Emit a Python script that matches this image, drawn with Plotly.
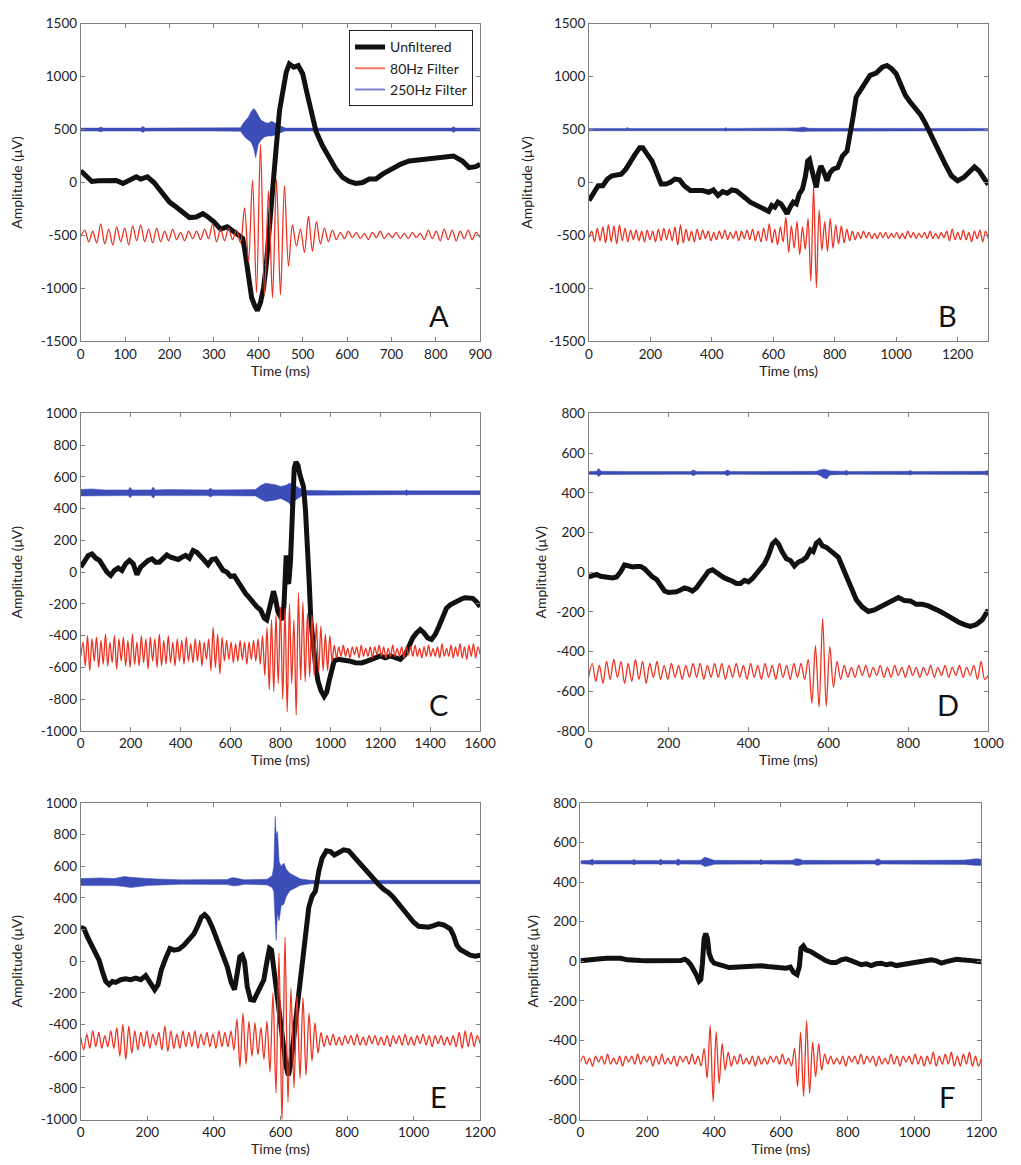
import numpy as np
import plotly.graph_objects as go

# Display offsets used to stack the filtered traces above/below the raw one
RED_OFFSET = -500
BLUE_OFFSET = 500

BLACK = "#111111"
RED = "#ec3322"
BLUE = "#3c4db8"
AXIS = "#7f7f7f"
FONT = "Lato"

# ---------------- Panel A ----------------
A_RAW = [(0, 110), (10, 64), (25, 10), (40, 17), (60, 23), (80, 20), (95, -8), (110, 17), (125, 54),
         (135, 33), (150, 54), (165, 0), (180, -76), (200, -185), (215, -232), (230, -278), (245, -331),
         (260, -325), (275, -294), (285, -320), (300, -372), (315, -440), (330, -418), (345, -465),
         (355, -490), (365, -527), (370, -651), (378, -900), (385, -1087), (392, -1164), (398, -1210),
         (405, -1133), (412, -993), (418, -776), (425, -465), (432, -92), (440, 312), (448, 685),
         (455, 872), (463, 1043), (470, 1121), (480, 1090), (490, 1105), (500, 1028), (510, 841),
         (520, 655), (530, 484), (545, 344), (560, 225), (575, 126), (590, 48), (605, 11), (620, -8),
         (635, 0), (650, 33), (665, 33), (680, 79), (700, 126), (720, 172), (740, 204), (760, 213),
         (780, 225), (800, 225), (820, 244), (840, 250), (860, 204), (875, 141), (890, 150), (900, 172)]
A_F80 = [-10, 50, -60, 40, -70, 110, -80, 60, -90, 80, -60, 70, -90, 90, -50, 100, -60, 60, -70, 70,
         -60, 40, -50, 60, -40, 30, -50, 40, -30, 40, -40, 60, -30, 110, -60, 60, -50, 70, -40, 50,
         -70, 260, -250, 520, -540, 860, -560, 420, -590, 530, -560, 470, -290, 100, -100, 60, -160, 180, -150, 130,
         -80, 70, -60, 50, -40, 30, -30, 40, -20, 30, -30, 20, -40, 30, -20, 40, -30, 20, -20, 30,
         -30, 20, -30, 30, -20, 20, -40, 50, -30, 40, -50, 60, -40, 50, -50, 40, -30, 50, -40, 30, -20]
A_F250 = [(0, 14, -14), (40, 14, -14), (45, 24, -22), (50, 14, -14), (135, 14, -14), (140, 30, -28),
          (145, 14, -14), (230, 17, -17), (300, 14, -14), (360, 18, -16), (366, 60, -50), (372, 90, -80),
          (378, 120, -100), (384, 170, -120), (390, 200, -180), (394, 180, -265), (400, 130, -140),
          (406, 90, -100), (414, 70, -70), (422, 60, -60), (430, 80, -60), (438, 60, -50), (446, 45, -40),
          (454, 26, -22), (462, 14, -14), (600, 14, -14), (835, 14, -14), (840, 28, -26), (845, 14, -14),
          (900, 14, -14)]

# ---------------- Panel B ----------------
B_RAW = [(0, -170), (15, -107), (30, -30), (45, -30), (60, 33), (75, 64), (90, 70), (105, 79), (120, 126),
         (135, 204), (150, 266), (165, 328), (175, 328), (190, 266), (205, 204), (220, 95), (235, -14),
         (250, -14), (265, 2), (280, 33), (295, 26), (310, -30), (330, -76), (350, -76), (370, -76),
         (390, -92), (405, -70), (420, -123), (435, -86), (450, -101), (465, -70), (480, -79), (495, -107),
         (510, -148), (525, -185), (540, -210), (555, -232), (570, -247), (585, -272), (595, -216),
         (605, -232), (615, -185), (625, -201), (635, -247), (645, -294), (655, -232), (665, -185),
         (675, -201), (685, -107), (695, -61), (705, 64), (712, 204), (718, 219), (725, 126), (732, 17),
         (740, -45), (748, 95), (755, 157), (765, 95), (775, 17), (785, 95), (795, 126), (810, 141),
         (825, 250), (840, 297), (850, 437), (860, 623), (870, 809), (885, 872), (900, 934), (915, 1012),
         (935, 1034), (955, 1090), (970, 1106), (985, 1075), (1000, 1028), (1015, 934), (1030, 825),
         (1045, 763), (1060, 716), (1080, 638), (1095, 561), (1110, 468), (1125, 374), (1140, 297),
         (1160, 172), (1180, 64), (1200, 17), (1220, 48), (1240, 110), (1255, 148), (1270, 110),
         (1285, 48), (1300, -20)]
B_F80 = [-20, 40, -60, 70, -50, 80, -70, 100, -60, 90, -80, 100, -50, 70, -60, 50, -40, 50, -50, 40,
         -60, 50, -40, 40, -60, 60, -50, 70, -40, 60, -50, 80, -90, 100, -70, 60, -50, 40, -60, 60,
         -40, 50, -30, 40, -50, 30, -40, 40, -30, 50, -40, 30, -30, 40, -50, 40, -30, 50, -40, 60,
         -50, 40, -60, 70, -50, 110, -70, 60, -90, 80, -60, 170, -160, 90, -120, 130, -180, 80, -130, 160,
         -430, 470, -495, 240, -140, 130, -150, 160, -120, 100, -80, 90, -70, 60, -50, 40, -40, 30, -30, 40,
         -20, 30, -30, 20, -30, 30, -20, 30, -30, 20, -20, 30, -30, 20, -30, 40, -20, 30, -30, 20,
         -20, 30, -30, 40, -30, 20, -30, 30, -20, 40, -50, 60, -40, 30, -40, 50, -40, 30, -60, 40,
         -30, 50, -60, 40, -30]
B_F250 = [(0, 11, -11), (120, 11, -11), (125, 20, -18), (130, 11, -11), (440, 11, -11), (445, 18, -16),
          (450, 11, -11), (640, 11, -11), (680, 16, -15), (700, 24, -20), (705, 18, -16), (720, 12, -12),
          (1080, 11, -11), (1085, 18, -16), (1090, 11, -11), (1170, 11, -11), (1175, 16, -15),
          (1180, 11, -11), (1300, 11, -11)]

# ---------------- Panel C ----------------
C_RAW = [(0, 32), (15, 74), (30, 105), (45, 115), (60, 88), (75, 74), (90, 32), (105, 1), (120, -20),
         (135, 11), (150, 26), (165, 11), (180, 53), (195, 74), (210, 53), (225, -16), (240, 32),
         (255, 53), (270, 74), (285, 84), (300, 63), (315, 63), (330, 88), (345, 109), (360, 94),
         (375, 88), (390, 80), (405, 94), (420, 105), (435, 88), (450, 136), (465, 125), (480, 94),
         (495, 74), (510, 47), (525, 80), (540, 84), (555, 42), (570, 11), (585, 1), (600, -26),
         (615, -24), (630, -61), (645, -103), (660, -134), (675, -161), (690, -196), (705, -217),
         (720, -237), (735, -289), (745, -300), (755, -227), (765, -154), (772, -120), (780, -170),
         (790, -250), (800, -280), (808, -300), (814, -206), (818, 63), (823, 105), (828, -61),
         (833, -72), (840, 63), (845, 354), (850, 560), (855, 653), (862, 694), (870, 674), (878, 612),
         (885, 581), (892, 539), (900, 395), (908, 188), (915, -61), (922, -310), (930, -476),
         (940, -580), (950, -684), (962, -746), (975, -782), (985, -756), (995, -684), (1005, -601),
         (1015, -559), (1030, -549), (1050, -551), (1075, -559), (1100, -570), (1125, -572),
         (1150, -559), (1175, -543), (1200, -528), (1220, -539), (1240, -528), (1260, -539),
         (1280, -549), (1300, -518), (1315, -466), (1330, -414), (1345, -383), (1360, -362),
         (1375, -383), (1390, -414), (1405, -424), (1420, -393), (1435, -341), (1450, -285),
         (1465, -227), (1480, -206), (1495, -192), (1510, -182), (1525, -169), (1540, -161),
         (1555, -165), (1570, -165), (1585, -186), (1600, -217)]
C_F80 = [-30, 60, -90, 100, -120, 80, -60, 90, -100, 70, -80, 110, -90, 60, -70, 100, -110, 80, -60, 90,
         -90, 70, -100, 110, -80, 60, -90, 100, -70, 80, -110, 90, -60, 80, -100, 110, -90, 70, -80, 100,
         -70, 60, -90, 80, -60, 70, -80, 90, -60, 50, -70, 80, -60, 70, -90, 60, -50, 80, -120, 150,
         -100, 110, -140, 90, -60, 70, -50, 60, -70, 50, -60, 70, -50, 60, -80, 60, -50, 70, -60, 80,
         -80, 100, -150, 150, -240, 200, -250, 230, -200, 280, -300, 270, -380, 300, -200, 200, -400, 370, -180, 310,
         -190, 240, -160, 230, -150, 180, -130, 160, -120, 110, -120, 100, -60, 40, -40, 30, -30, 40, -30, 20,
         -40, 30, -20, 30, -40, 40, -30, 20, -30, 30, -40, 30, -20, 40, -30, 30, -40, 20, -30, 40,
         -30, 20, -30, 30, -40, 30, -20, 30, -30, 40, -30, 20, -40, 30, -30, 40, -30, 20, -30, 30,
         -40, 50, -30, 20, -30, 40, -40, 30, -30, 50, -40, 30, -50, 40, -30, 50, -40, 30, -20]
C_F250 = [(0, 20, -20), (40, 24, -22), (100, 18, -18), (190, 18, -18), (198, 35, -32), (206, 18, -18),
          (282, 18, -18), (290, 36, -34), (298, 18, -18), (350, 20, -20), (510, 18, -18), (520, 28, -26),
          (530, 18, -18), (700, 20, -20), (720, 45, -40), (740, 60, -55), (760, 55, -50), (780, 50, -45),
          (800, 40, -36), (820, 45, -50), (835, 60, -65), (845, 55, -95), (855, 50, -55), (870, 35, -35),
          (890, 16, -16), (1000, 12, -12), (1300, 12, -12), (1305, 20, -18), (1310, 12, -12),
          (1600, 12, -12)]

# ---------------- Panel D ----------------
D_RAW = [(0, -24), (10, -16), (20, -11), (30, -21), (40, -24), (50, -32), (60, -29), (70, -24), (80, 1),
         (90, 37), (100, 31), (110, 26), (120, 29), (130, 29), (140, 17), (150, -7), (160, -24),
         (170, -36), (180, -65), (190, -95), (200, -102), (210, -102), (220, -99), (230, -90),
         (240, -79), (250, -85), (260, -95), (270, -79), (280, -49), (290, -16), (300, 4), (310, 12),
         (320, 1), (330, -16), (340, -29), (350, -36), (360, -46), (370, -57), (380, -57), (390, -41),
         (400, -49), (410, -32), (420, -7), (430, 17), (440, 42), (450, 84), (460, 142), (468, 158),
         (475, 142), (485, 100), (495, 67), (505, 59), (515, 31), (525, 51), (535, 59), (545, 75),
         (555, 113), (562, 104), (570, 147), (577, 158), (585, 133), (595, 125), (605, 104), (615, 92),
         (625, 75), (640, 1), (655, -82), (670, -140), (685, -176), (700, -198), (715, -190),
         (730, -173), (745, -162), (760, -143), (775, -128), (790, -143), (805, -145), (820, -162),
         (835, -162), (850, -170), (865, -182), (880, -198), (895, -215), (910, -234), (925, -251),
         (940, -264), (955, -273), (970, -264), (985, -240), (1000, -190)]
D_F80 = [-30, 40, -50, 30, -60, 50, -40, 60, -30, 50, -60, 40, -50, 60, -40, 50, -60, 40, -30, 50,
         -40, 30, -40, 40, -30, 30, -40, 30, -30, 40, -30, 40, -40, 30, -30, 40, -30, 40, -40, 30,
         -30, 40, -30, 30, -40, 40, -30, 30, -40, 40, -30, 30, -40, 40, -30, 30, -40, 40, -30, 40,
         -40, 60, -160, 130, -180, 265, -175, 125, -80, 50, -40, 30, -30, 20, -30, 30, -20, 30, -30, 20,
         -20, 30, -30, 20, -30, 30, -20, 20, -30, 30, -20, 20, -30, 20, -20, 30, -30, 20, -20, 30,
         -30, 20, -20, 30, -30, 20, -20, 30, -40, 50, -40, -20]
D_F250 = [(0, 7, -7), (20, 8, -8), (25, 22, -18), (32, 8, -8), (100, 7, -7), (255, 7, -7),
          (262, 15, -14), (270, 7, -7), (340, 7, -7), (347, 15, -14), (355, 7, -7), (570, 8, -8),
          (578, 15, -12), (588, 18, -25), (596, 16, -30), (604, 10, -10), (640, 8, -8), (645, 13, -12),
          (650, 7, -7), (800, 8, -8), (805, 12, -11), (810, 7, -7), (990, 8, -8), (1000, 12, -12)]

# ---------------- Panel E ----------------
E_RAW = [(0, 215), (10, 205), (20, 153), (30, 111), (45, 59), (55, 7), (65, -65), (75, -128), (85, -148),
         (95, -128), (105, -134), (120, -117), (135, -111), (150, -117), (165, -107), (180, -117),
         (195, -92), (210, -138), (222, -180), (232, -148), (242, -55), (255, 18), (268, 80), (280, 70),
         (295, 76), (310, 101), (325, 142), (340, 173), (352, 225), (362, 277), (372, 294), (382, 273),
         (395, 215), (410, 132), (425, 49), (440, -34), (452, -134), (462, -180), (470, -76), (478, 28),
         (485, 38), (492, -3), (500, -159), (510, -242), (520, -246), (530, -200), (540, -169),
         (550, -117), (560, 7), (567, 80), (573, 70), (580, -55), (587, -180), (595, -304), (603, -450),
         (610, -554), (617, -668), (624, -720), (630, -658), (637, -533), (645, -388), (655, -242),
         (665, -76), (675, 121), (685, 340), (695, 412), (705, 443), (715, 568), (725, 651), (738, 697),
         (750, 692), (762, 671), (775, 688), (790, 703), (805, 697), (820, 661), (835, 620), (850, 589),
         (865, 547), (880, 516), (895, 485), (910, 454), (925, 433), (940, 402), (955, 360), (970, 319),
         (985, 277), (1000, 246), (1015, 221), (1030, 215), (1045, 215), (1060, 225), (1075, 236),
         (1090, 229), (1100, 215), (1110, 205), (1120, 163), (1130, 101), (1140, 74), (1155, 55),
         (1170, 38), (1185, 32), (1200, 38)]
E_F80 = [20, -60, 40, -50, 60, -40, 50, -50, 30, -40, 60, -50, 80, -100, 100, -120, 90, -80, 60, -60,
         50, -40, 60, -50, 40, -30, 50, -60, 90, -70, 60, -50, 40, -50, 60, -40, 50, -40, 60, -50,
         40, -30, 50, -40, 40, -50, 60, -40, 50, -40, 60, -60, 135, -170, 170, -150, 120, -100, 110, -90,
         80, -120, 120, -200, 300, -330, 550, -520, 650, -390, 330, -300, 280, -240, 270, -220, 170, -130, 110, -80,
         50, -40, 30, -30, 40, -30, 20, -30, 30, -20, 30, -30, 40, -30, 20, -30, 30, -20, 30, -30,
         20, -30, 30, -40, 30, -20, 30, -30, 40, -30, 20, -30, 30, -20, 40, -30, 30, -40, 30, -20,
         30, -30, 20, -30, 30, -40, 50, -50, 60, -40, 50, -40, 30, -20]
E_F250 = [(0, 22, -22), (60, 26, -22), (100, 22, -22), (130, 35, -28), (150, 30, -35), (170, 26, -30),
          (200, 22, -22), (250, 18, -18), (300, 14, -14), (440, 16, -16), (455, 28, -24), (470, 24, -24),
          (490, 14, -14), (560, 18, -18), (575, 40, -35), (580, 100, -60), (584, 414, -250),
          (587, 300, -369), (591, 320, -200), (596, 130, -244), (602, 100, -150), (610, 120, -140),
          (618, 80, -90), (628, 55, -55), (640, 40, -40), (660, 20, -20), (690, 11, -11), (1200, 11, -11)]

# ---------------- Panel F ----------------
F_RAW = [(0, 2), (20, 7), (40, 10), (60, 12), (80, 15), (100, 17), (120, 15), (140, 7), (160, 3), (180, 3),
         (200, 2), (220, 3), (240, 0), (260, 0), (280, 0), (300, 3), (312, 10), (320, 2), (330, -18),
         (340, -43), (348, -73), (355, -101), (360, -93), (365, -10), (370, 115), (375, 140), (380, 115),
         (385, 40), (392, 7), (400, -10), (415, -18), (430, -27), (445, -32), (460, -30), (480, -27),
         (500, -27), (520, -23), (540, -23), (560, -27), (580, -32), (600, -35), (615, -35), (628, -30),
         (638, -57), (648, -68), (655, -27), (660, 65), (667, 77), (675, 57), (690, 48), (705, 32),
         (720, 15), (735, 2), (750, -7), (765, -7), (780, 7), (795, 12), (810, 3), (825, -10), (840, -18),
         (855, -13), (870, -22), (885, -13), (900, -10), (915, -18), (930, -13), (945, -22), (960, -18),
         (975, -10), (990, -7), (1005, -2), (1020, -2), (1035, 3), (1050, 7), (1065, 2), (1080, -10),
         (1095, -2), (1110, 7), (1125, 10), (1140, 7), (1155, 7), (1170, 3), (1185, 0), (1200, -3)]
F_F80 = [-10, 20, -20, 10, -30, 20, -10, 20, -20, 30, -20, 10, -20, 20, -30, 20, -10, 20, -20, 30,
         -20, 20, -10, 20, -30, 20, -20, 30, -20, 10, -20, 20, -30, 20, -10, 20, -20, 30, -20, 20,
         -30, 58, -92, 174, -209, 144, -117, 83, -50, 40, -30, 20, -20, 30, -20, 10, -20, 20, -30, 20,
         -20, 10, -20, 20, -10, 20, -20, 30, -20, 10, -30, 60, -134, 141, -183, 200, -167, 91, -84, 83,
         -50, 30, -20, 20, -20, 10, -20, 20, -30, 20, -10, 20, -20, 30, -20, 20, -10, 20, -30, 20,
         -20, 10, -20, 30, -20, 20, -30, 20, -10, 20, -20, 30, -20, 20, -30, 20, -20, 40, -30, 20,
         -20, 30, -20, 40, -30, 20, -30, 30, -20, 40, -30, 20, -30, 10]
F_F250 = [(0, 8, -8), (30, 10, -10), (35, 16, -15), (40, 9, -9), (155, 9, -9), (160, 15, -14),
          (165, 9, -9), (235, 9, -9), (240, 16, -15), (245, 9, -9), (285, 9, -9), (292, 16, -16),
          (300, 9, -9), (360, 10, -10), (372, 26, -22), (385, 18, -18), (400, 10, -10), (535, 9, -9),
          (540, 14, -12), (545, 9, -9), (635, 10, -10), (645, 18, -16), (655, 16, -15), (665, 10, -10),
          (880, 9, -9), (890, 18, -16), (900, 9, -9), (1050, 10, -10), (1150, 11, -11),
          (1185, 18, -16), (1200, 15, -15)]

PANELS = [
    dict(label="A", raw=A_RAW, f80=A_F80, f250=A_F250, tmax=900,
         xticks=list(range(0, 901, 100)), yticks=list(range(-1500, 1501, 500))),
    dict(label="B", raw=B_RAW, f80=B_F80, f250=B_F250, tmax=1300,
         xticks=list(range(0, 1201, 200)), yticks=list(range(-1500, 1501, 500))),
    dict(label="C", raw=C_RAW, f80=C_F80, f250=C_F250, tmax=1600,
         xticks=list(range(0, 1601, 200)), yticks=list(range(-1000, 1001, 200))),
    dict(label="D", raw=D_RAW, f80=D_F80, f250=D_F250, tmax=1000,
         xticks=list(range(0, 1001, 200)), yticks=list(range(-800, 801, 200))),
    dict(label="E", raw=E_RAW, f80=E_F80, f250=E_F250, tmax=1200,
         xticks=list(range(0, 1201, 200)), yticks=list(range(-1000, 1001, 200))),
    dict(label="F", raw=F_RAW, f80=F_F80, f250=F_F250, tmax=1200,
         xticks=list(range(0, 1201, 200)), yticks=list(range(-800, 801, 200))),
]

# Subplot placement on the page (paper fractions)
X_DOMAINS = [[0.0767, 0.4757], [0.5844, 0.9833], [0.0767, 0.4757],
             [0.5840, 0.9833], [0.0767, 0.4757], [0.5759, 0.9765]]
Y_DOMAINS = [[0.7099, 0.9863], [0.7099, 0.9863], [0.3708, 0.6472],
             [0.3708, 0.6472], [0.0326, 0.3082], [0.0326, 0.3082]]
LETTER_POS = [(0.897, 0.081), (0.899, 0.081), (0.895, 0.082),
              (0.899, 0.082), (0.895, 0.072), (0.914, 0.072)]
YTITLE_STANDOFF = [14, 13, 14, 6, 14, 6]

fig = go.Figure()
layout = dict(
    width=1021, height=1165,
    margin=dict(l=0, r=0, t=0, b=0),
    paper_bgcolor="white", plot_bgcolor="white",
    font=dict(family=FONT, size=13, color="#222222"),
    showlegend=True,
    legend=dict(x=0.3447, y=0.9805, xanchor="left", yanchor="top",
                bgcolor="white", bordercolor="#222222", borderwidth=1,
                font=dict(family=FONT, size=14, color="#222222"),
                tracegroupgap=0),
)
annotations = []

for k, p in enumerate(PANELS):
    sfx = "" if k == 0 else str(k + 1)
    xa, ya = "x" + sfx, "y" + sfx

    # 250 Hz band (upper and lower excursion around its offset)
    bt = [r[0] for r in p["f250"]]
    hi = [BLUE_OFFSET + r[1] for r in p["f250"]]
    lo = [BLUE_OFFSET + r[2] for r in p["f250"]]
    fig.add_trace(go.Scatter(x=bt + bt[::-1], y=hi + lo[::-1], mode="lines", fill="toself",
                             fillcolor=BLUE, line=dict(color=BLUE, width=0.5),
                             hoverinfo="skip", showlegend=False, xaxis=xa, yaxis=ya))

    # unfiltered recording
    fig.add_trace(go.Scatter(x=[r[0] for r in p["raw"]], y=[r[1] for r in p["raw"]], mode="lines",
                             line=dict(color=BLACK, width=5), showlegend=False, xaxis=xa, yaxis=ya))

    # 80 Hz filtered trace, evenly sampled across the record
    t80 = np.linspace(0, p["tmax"], len(p["f80"]))
    fig.add_trace(go.Scatter(x=t80, y=RED_OFFSET + np.array(p["f80"]), mode="lines",
                             line=dict(color=RED, width=1.3, shape="spline", smoothing=0.9),
                             showlegend=False, xaxis=xa, yaxis=ya))

    common = dict(showline=True, linecolor=AXIS, linewidth=1, mirror="ticks",
                  ticks="inside", ticklen=4, tickwidth=1, tickcolor=AXIS,
                  showgrid=False, zeroline=False,
                  tickfont=dict(family=FONT, size=13.5, color="#222222"))
    layout["xaxis" + sfx] = dict(common, domain=X_DOMAINS[k], anchor=ya,
                                 range=[0, p["tmax"]], tickvals=p["xticks"],
                                 ticktext=[str(v) for v in p["xticks"]],
                                 title=dict(text="Time (ms)", standoff=2,
                                            font=dict(family=FONT, size=14, color="#222222")))
    layout["yaxis" + sfx] = dict(common, domain=Y_DOMAINS[k], anchor=xa,
                                 range=[p["yticks"][0], p["yticks"][-1]], tickvals=p["yticks"],
                                 ticktext=[str(v) for v in p["yticks"]],
                                 title=dict(text="Amplitude (μV)", standoff=YTITLE_STANDOFF[k],
                                            font=dict(family=FONT, size=14, color="#222222")))
    lx, ly = LETTER_POS[k]
    annotations.append(dict(text=p["label"], x=lx, y=ly, xref=xa + " domain", yref=ya + " domain",
                            showarrow=False, xanchor="center", yanchor="middle",
                            font=dict(family=FONT, size=29, color="#111111")))

# Legend keys
for name, color, width in [("Unfiltered", BLACK, 5), ("80Hz Filter", "#f27a62", 2),
                           ("250Hz Filter", "#7a82cf", 2)]:
    fig.add_trace(go.Scatter(x=[None], y=[None], mode="lines", name=name,
                             line=dict(color=color, width=width), showlegend=True,
                             xaxis="x", yaxis="y"))

layout["annotations"] = annotations
fig.update_layout(**layout)
fig.write_html("out.html")
